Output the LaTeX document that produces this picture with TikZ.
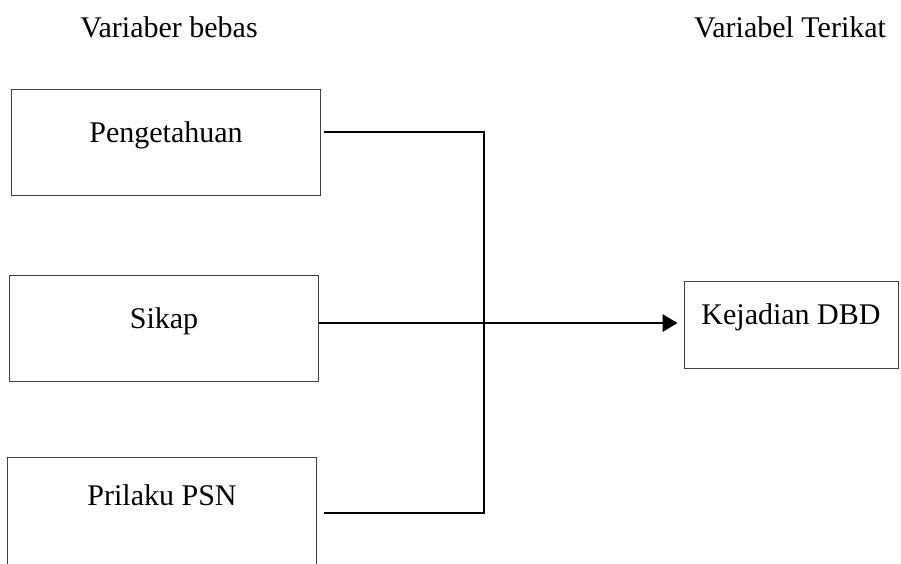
\documentclass[tikz,border=0pt]{standalone}
\usepackage{fontspec}
\setmainfont{Liberation Serif}
\usetikzlibrary{arrows.meta,calc}

\begin{document}
\begin{tikzpicture}[x=0.4pt,y=-0.4pt,font=\fontsize{12}{14}\selectfont,
    varbox/.style={draw=black!75,line width=0.4pt,rectangle,
        minimum width=123.2pt,minimum height=42.4pt,text height=1.5ex,text depth=1.5ex},
    link/.style={line width=0.8pt}]
    \useasboundingbox (0,0) rectangle (901,563);

    % Headings
    \node (hbebas) at (169,27) {Variaber bebas};
    \node (hterikat) at (790,27) {Variabel Terikat};

    % Independent variables
    \node[varbox] (peng) at (166,142) {Pengetahuan};
    \node[varbox] (sikap) at (164,328) {Sikap};
    \node[varbox,minimum height=44pt,text height=6.4pt,text depth=12pt] (psn) at (162,512) {Prilaku PSN};

    % Dependent variable
    \node[varbox,minimum width=85.6pt,minimum height=34.8pt] (dbd) at (791,324.5) {Kejadian DBD};

    % Connectors
    \coordinate (jtop) at (484,132);
    \coordinate (jbot) at (484,513);
    \draw[link] ($(peng.east |- jtop)+(3,0)$) -- (jtop) -- (jbot) -- ($(psn.east |- jbot)+(7,0)$);
    \draw[link,-{Triangle[length=6pt,width=7pt]},shorten >=2.4pt] ($(sikap.east)+(0,-5)$) -- ($(dbd.west)+(0,-1.5)$);
\end{tikzpicture}
\end{document}
